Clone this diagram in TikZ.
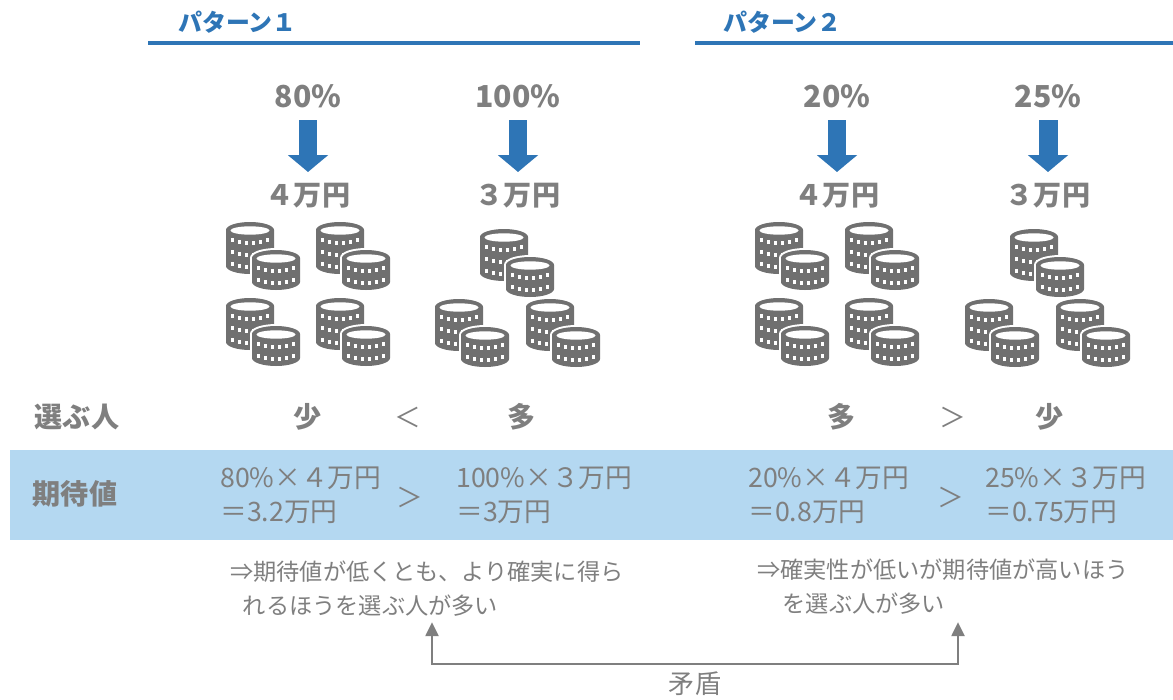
\documentclass[tikz,border=0pt]{standalone}
\usepackage{fontspec}
\setmainfont{Noto Sans CJK JP}
\usetikzlibrary{arrows.meta}
\usetikzlibrary{calc}

\definecolor{hdblue}{HTML}{2E75B6}
\definecolor{txgray}{HTML}{7F7F7F}
\definecolor{coingray}{HTML}{707070}
\definecolor{bandblue}{HTML}{B4D8F1}

\tikzset{
  % a stack of #1 coins, top face centred on the origin (pixel units, y down)
  pics/stack/.style={code={
    \path[fill=coingray,preaction={draw=white,line width=2.8pt}]
      (-24,0) -- (-24,{#1*12}) arc[start angle=180,end angle=0,x radius=24,y radius=8]
      -- (24,0) arc[start angle=0,end angle=-180,x radius=24,y radius=8] -- cycle;
    \fill[white] (0,0.5) ellipse [x radius=19.5,y radius=4.2];
    \foreach \i in {1,...,#1} {
      \foreach \x in {-17.5,-10.5,-3.5,3.5,10.5,17.5}
        \fill[white] ({\x-1.8},{(\i-1)*12+3+8*sqrt(1-(\x/24)^2)}) rectangle ++(3.6,3.6);
    }
  }},
  % three coins behind, two in front
  pics/pile/.style={code={
    \pic at (0,0) {stack=3};
    \pic at (26,28) {stack=2};
  }},
  head/.style={font=\bfseries\fontsize{17}{20}\selectfont,text=hdblue,anchor=west,inner sep=0pt},
  pct/.style={font=\bfseries\fontsize{21.5}{24}\selectfont,text=txgray},
  big/.style={font=\bfseries\fontsize{20}{24}\selectfont,text=txgray},
  thin/.style={font=\fontsize{19}{24}\selectfont,text=txgray},
  evtext/.style={font=\fontsize{19}{24}\selectfont,text=txgray,align=left,anchor=west,inner sep=0pt},
  note/.style={font=\fontsize{16.5}{24}\selectfont,text=txgray,align=left,anchor=west,inner sep=0pt},
  fall/.style={hdblue,line width=13.5pt,-{Triangle[length=12pt,width=28pt]}},
  link/.style={txgray,line width=2.1pt,{Triangle[length=10pt,width=9pt]}-{Triangle[length=10pt,width=9pt]}},
}

\begin{document}
\begin{tikzpicture}[x=0.025cm,y=-0.025cm]
	\useasboundingbox (0,0) rectangle (1173,699);

	% pattern headings
	\node (p1head) [head] at (178,22) {パターン１};
	\draw[hdblue,line width=2.2pt] (148,43) -- (640,43);
	\node (p2head) [head] at (723,22) {パターン２};
	\draw[hdblue,line width=2.2pt] (695,43) -- (1173,43);

	% probability -> prize
	\node (pr80) [pct] at (308,96) {80\%};
	\node (am4a) [big] at (308,196) {４万円};
	\draw[fall] ([yshift=-0.6cm]pr80.center) -- ([yshift=0.6cm]am4a.center);
	\node (pr100) [pct] at (518,96) {100\%};
	\node (am3a) [big] at (518,196) {３万円};
	\draw[fall] ([yshift=-0.6cm]pr100.center) -- ([yshift=0.6cm]am3a.center);
	\node (pr20) [pct] at (837,96) {20\%};
	\node (am4b) [big] at (837,196) {４万円};
	\draw[fall] ([yshift=-0.6cm]pr20.center) -- ([yshift=0.6cm]am4b.center);
	\node (pr25) [pct] at (1048,96) {25\%};
	\node (am3b) [big] at (1048,196) {３万円};
	\draw[fall] ([yshift=-0.6cm]pr25.center) -- ([yshift=0.6cm]am3b.center);

	% coin piles
	\foreach \p in {(250,230),(340,230),(250,306),(340,306),
	                (504,237),(459,307),(550,307),
	                (779,230),(869,230),(779,306),(869,306),
	                (1034,237),(989,307),(1080,307)}
		\pic at \p {pile};

	% who picks which
	\node (who) [big] at (77,417) {選ぶ人};
	\node (few1) [big] at (308,417) {少};
	\node (lt1) [thin] at (408,417) {＜};
	\node (many1) [big] at (522,417) {多};
	\node (many2) [big] at (842,417) {多};
	\node (gt2) [thin] at (953,417) {＞};
	\node (few2) [big] at (1050,417) {少};

	% expected values
	\fill[bandblue] (10,450) rectangle (1173,540);
	\node (ev) [big] at (75,494) {期待値};
	\node (ev1) [evtext] at (220,495) {80\%×４万円\\＝3.2万円};
	\node (gt1) [thin] at (410,497) {＞};
	\node (ev2) [evtext] at (456,495) {100\%×３万円\\＝3万円};
	\node (ev3) [evtext] at (748,495) {20\%×４万円\\＝0.8万円};
	\node (gt3) [thin] at (951,497) {＞};
	\node (ev4) [evtext] at (985,495) {25\%×３万円\\＝0.75万円};

	% conclusions
	\node (note1) [note] at (230,589) {⇒期待値が低くとも、より確実に得ら\\\hspace*{9pt}れるほうを選ぶ人が多い};
	\node (note2) [note] at (757,587) {⇒確実性が低いが期待値が高いほう\\\hspace*{18pt}を選ぶ人が多い};

	\coordinate (lp) at (432,622);
	\coordinate (rp) at (958,622);
	\draw[link] (lp) -- ++(0,42) -| node (mujun) [pos=0.25,below=4.5pt,inner sep=0pt,text=txgray,font=\fontsize{18.5}{20}\selectfont] {矛盾} (rp);
\end{tikzpicture}
\end{document}
